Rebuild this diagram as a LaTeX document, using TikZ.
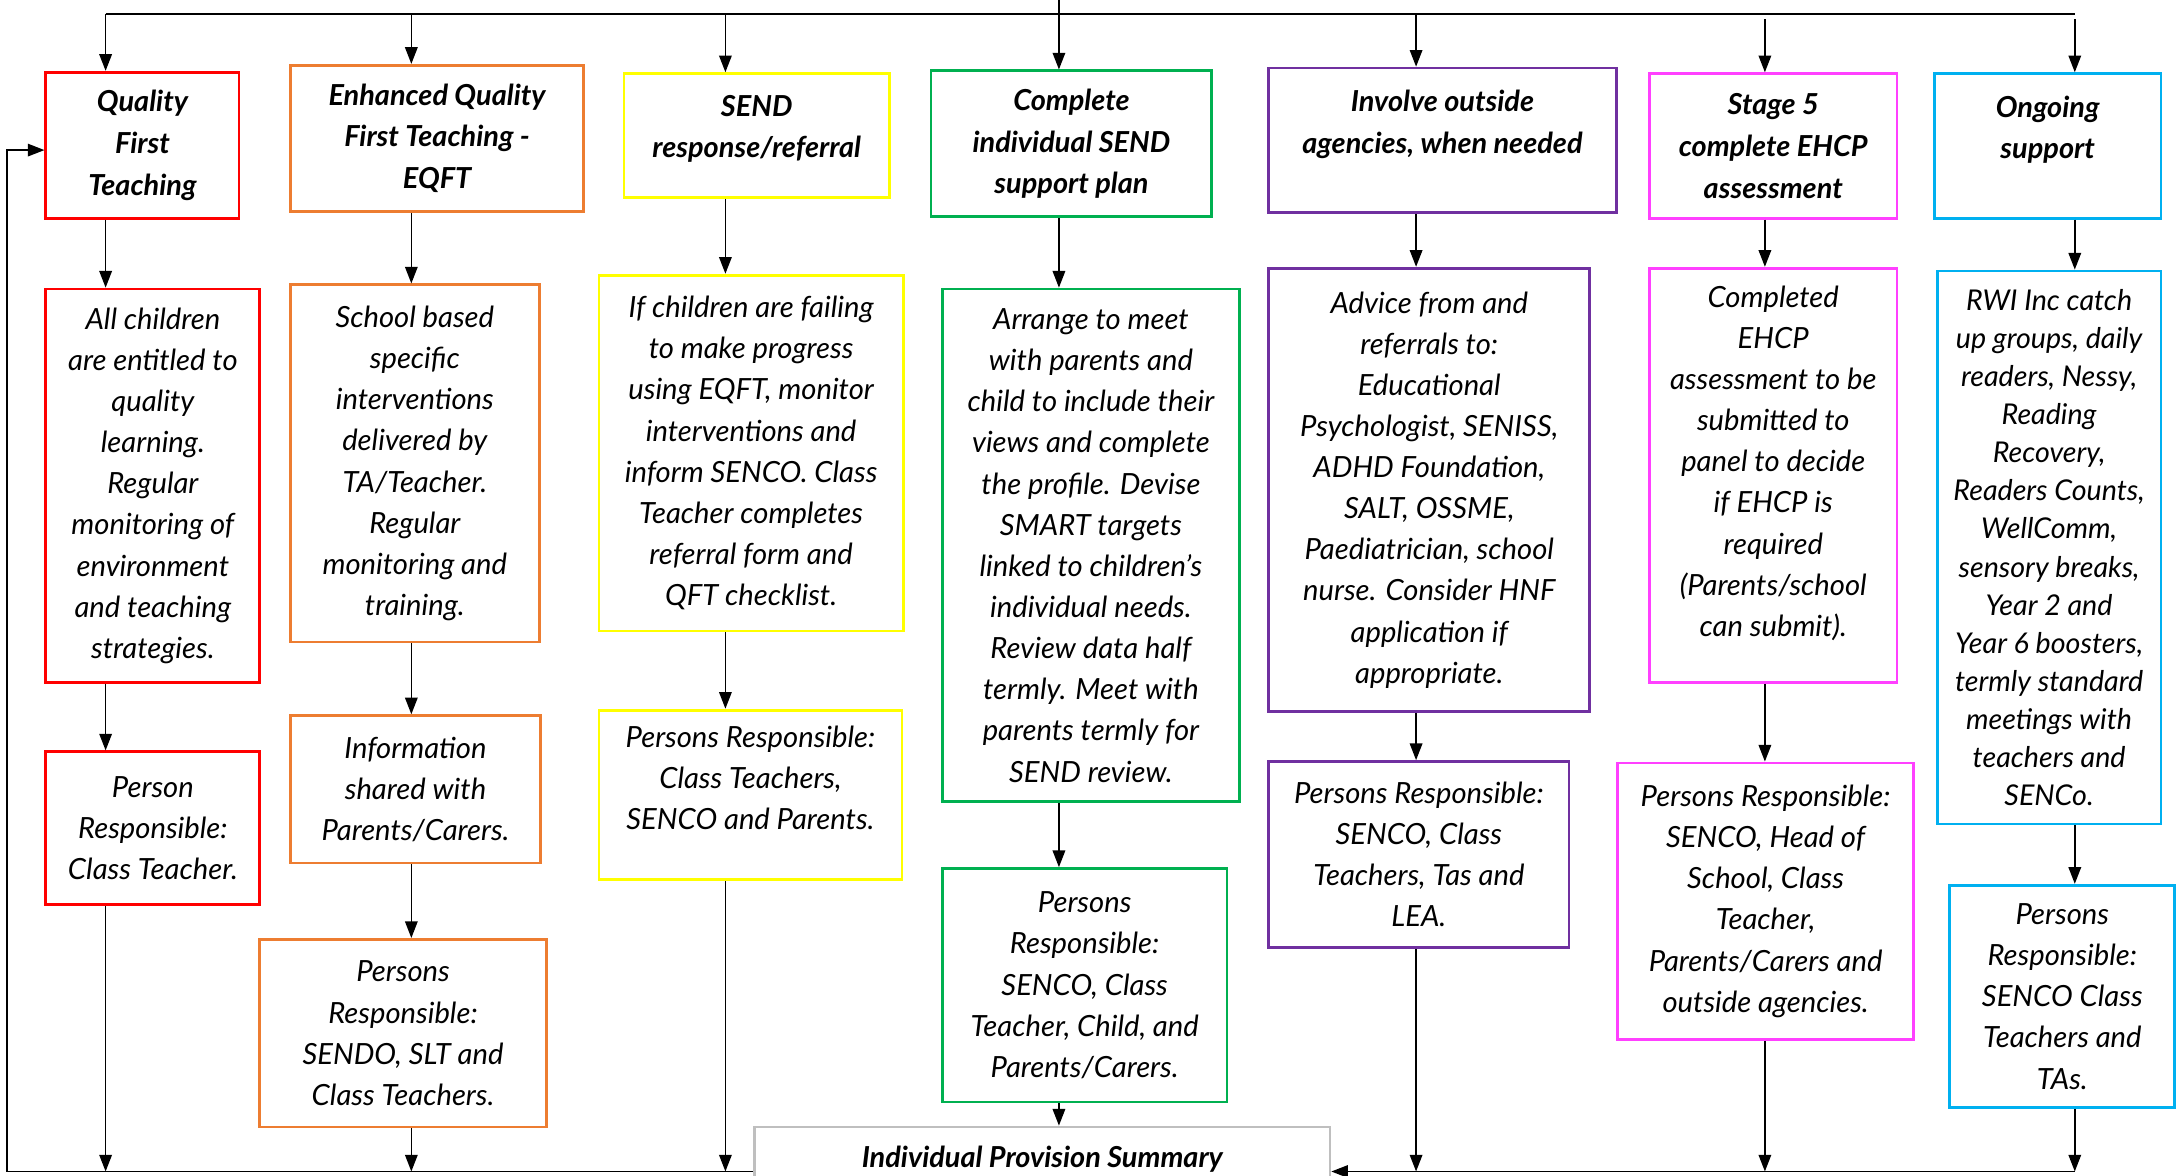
\documentclass[tikz,border=0pt]{standalone}
\usepackage{fontspec}
\setmainfont{Lato}
\usetikzlibrary{arrows.meta}
\definecolor{cred}{HTML}{FF0000}
\definecolor{corange}{HTML}{ED7D31}
\definecolor{cyellow}{HTML}{FFFF00}
\definecolor{cgreen}{HTML}{00B050}
\definecolor{cpurple}{HTML}{7030A0}
\definecolor{cmagenta}{HTML}{FF40FF}
\definecolor{ccyan}{HTML}{00B0F0}
\definecolor{cgray}{HTML}{BFBFBF}
\newcommand\myBodyF{\itshape\fontsize{10.5}{14.8}\selectfont}
\newcommand\myHdrF{\bfseries\itshape\fontsize{10.4}{15}\selectfont}
\newcommand\mySmallF{\itshape\fontsize{10.3}{13.7}\selectfont}
\newcommand{\mybox}[7]{%
  \node[boxst, draw=#2, minimum width={0.5pt*(#5-#3)}, minimum height={0.5pt*(#6-#4)}, #7] (#1) at ({(#3+#5)/2},{(#4+#6)/2})}
\tikzset{
  boxst/.style={rectangle, line width=1pt, inner sep=2pt, align=center, font=\myBodyF, fill=white},
  hdr/.style={font=\myHdrF},
  smalltxt/.style={font=\mySmallF},
  ln/.style={line width=0.6pt, draw=black},
  arr/.style={line width=0.6pt, draw=black, -{Triangle[length=6pt,width=4.5pt]}},
}
\begin{document}
\begin{tikzpicture}[x=0.5pt, y=-0.5pt]
\useasboundingbox (0,0) rectangle (1568,846);
\clip (0,0) rectangle (1568,846);

% column x positions
\coordinate (c1) at (76,0);
\coordinate (c2) at (296,0);
\coordinate (c3) at (522,0);
\coordinate (c4) at (762,0);
\coordinate (c5) at (1019,0);
\coordinate (c6) at (1270,0);
\coordinate (c7) at (1493,0);
\coordinate (yb) at (0,843);
\coordinate (yt) at (0,10);
\coordinate (ytg) at (0,14);

% column 1
\mybox{h1}{cred}{33}{52}{172}{157}{hdr}{Quality\\First\\Teaching};
\mybox{b1}{cred}{33}{208}{187}{491}{}{All children\\are entitled to\\quality\\learning.\\Regular\\monitoring of\\environment\\and teaching\\strategies.};
\mybox{p1}{cred}{33}{541}{187}{651}{}{Person\\Responsible:\\Class Teacher.};

% column 2
\mybox{h2}{corange}{209}{47}{420}{152}{hdr}{Enhanced Quality\\First Teaching -\\EQFT};
\mybox{b2}{corange}{209}{205}{388}{462}{}{School based\\specific\\interventions\\delivered by\\TA/Teacher.\\Regular\\monitoring and\\training.};
\mybox{i2}{corange}{209}{515}{389}{621}{}{Information\\shared with\\Parents/Carers.};
\mybox{p2}{corange}{187}{676}{393}{811}{}{Persons\\Responsible:\\SENDO, SLT and\\Class Teachers.};

% column 3
\mybox{h3}{cyellow}{449}{53}{640}{142}{hdr}{SEND\\response/referral\\[-13pt]\strut};
\mybox{b3}{cyellow}{431}{198}{650}{454}{}{If children are failing\\to make progress\\using EQFT, monitor\\interventions and\\inform SENCO. Class\\Teacher completes\\referral form and\\QFT checklist.};
\mybox{p3}{cyellow}{431}{511}{649}{633}{}{Persons Responsible:\\Class Teachers,\\SENCO and Parents.\\[-7pt]\strut};

% column 4
\mybox{h4}{cgreen}{670}{51}{872}{156}{hdr}{Complete\\individual SEND\\support plan};
\mybox{b4}{cgreen}{678}{208}{892}{577}{}{Arrange to meet\\with parents and\\child to include their\\views and complete\\the profile. Devise\\SMART targets\\linked to children’s\\individual needs.\\Review data half\\termly. Meet with\\parents termly for\\SEND review.};
\mybox{p4}{cgreen}{678}{625}{883}{793}{}{Persons\\Responsible:\\SENCO, Class\\Teacher, Child, and\\Parents/Carers.};

% column 5
\mybox{h5}{cpurple}{913}{49}{1163}{153}{hdr}{Involve outside\\agencies, when needed\\[-6pt]\strut};
\mybox{b5}{cpurple}{913}{193}{1144}{512}{}{Advice from and\\referrals to:\\Educational\\Psychologist, SENISS,\\ADHD Foundation,\\SALT, OSSME,\\Paediatrician, school\\nurse. Consider HNF\\application if\\appropriate.};
\mybox{p5}{cpurple}{913}{548}{1129}{682}{}{Persons Responsible:\\SENCO, Class\\Teachers, Tas and\\LEA.};

% column 6
\mybox{h6}{cmagenta}{1187}{53}{1365}{157}{hdr}{Stage 5\\complete EHCP\\assessment};
\mybox{b6}{cmagenta}{1187}{193}{1365}{491}{}{Completed\\EHCP\\assessment to be\\submitted to\\panel to decide\\if EHCP is\\required\\(Parents/school\\can submit).\\[-9pt]\strut};
\mybox{p6}{cmagenta}{1164}{549}{1377}{748}{}{Persons Responsible:\\SENCO, Head of\\School, Class\\Teacher,\\Parents/Carers and\\outside agencies.};

% column 7
\mybox{h7}{ccyan}{1392}{53}{1555}{157}{hdr}{Ongoing\\support\\[-6pt]\strut};
\mybox{b7}{ccyan}{1394}{195}{1555}{593}{smalltxt}{RWI Inc catch\\up groups, daily\\readers, Nessy,\\Reading\\Recovery,\\Readers Counts,\\WellComm,\\sensory breaks,\\Year 2 and\\Year 6 boosters,\\termly standard\\meetings with\\teachers and\\SENCo.};
\mybox{p7}{ccyan}{1403}{637}{1565}{797}{}{Persons\\Responsible:\\SENCO Class\\Teachers and\\TAs.};

% summary box
\mybox{ips}{cgray}{543}{811}{957}{857}{hdr}{Individual Provision Summary};

% top distribution line
\draw[ln] (c1 |- yt) -- (c7 |- yt);
\draw[arr] (c1 |- yt) -- (h1.north -| c1);
\draw[arr] (c2 |- yt) -- (h2.north -| c2);
\draw[arr] (c3 |- yt) -- (h3.north -| c3);
\draw[arr] (c4) -- (h4.north -| c4);
\draw[arr] (c5 |- yt) -- (h5.north -| c5);
\draw[arr] (c6 |- ytg) -- (h6.north -| c6);
\draw[arr] (c7 |- ytg) -- (h7.north -| c7);

% column 1 flow
\draw[arr] (h1.south -| c1) -- (b1.north -| c1);
\draw[arr] (b1.south -| c1) -- (p1.north -| c1);
\draw[arr] (p1.south -| c1) -- (c1 |- yb);

% column 2 flow
\draw[arr] (h2.south -| c2) -- (b2.north -| c2);
\draw[arr] (b2.south -| c2) -- (i2.north -| c2);
\draw[arr] (i2.south -| c2) -- (p2.north -| c2);
\draw[arr] (p2.south -| c2) -- (c2 |- yb);

% column 3 flow
\draw[arr] (h3.south -| c3) -- (b3.north -| c3);
\draw[arr] (b3.south -| c3) -- (p3.north -| c3);
\draw[arr] (p3.south -| c3) -- (c3 |- yb);

% column 4 flow
\draw[arr] (h4.south -| c4) -- (b4.north -| c4);
\draw[arr] (b4.south -| c4) -- (p4.north -| c4);
\draw[arr] (p4.south -| c4) -- (ips.north -| c4);

% column 5 flow
\draw[arr] (h5.south -| c5) -- (b5.north -| c5);
\draw[arr] (b5.south -| c5) -- (p5.north -| c5);
\draw[arr] (p5.south -| c5) -- (c5 |- yb);

% column 6 flow
\draw[arr] (h6.south -| c6) -- (b6.north -| c6);
\draw[arr] (b6.south -| c6) -- (p6.north -| c6);
\draw[arr] (p6.south -| c6) -- (c6 |- yb);

% column 7 flow
\draw[arr] (h7.south -| c7) -- (b7.north -| c7);
\draw[arr] (b7.south -| c7) -- (p7.north -| c7);
\draw[arr] (p7.south -| c7) -- (c7 |- yb);

% bottom collecting lines and feedback loop
\coordinate (lb) at (5,843);
\coordinate (lt) at (5,108);
\draw[arr] (c7 |- yb) -- (ips.east |- yb);
\draw[arr] (ips.west |- yb) -- (lb) -- (lt) -- (h1.west |- lt);
\end{tikzpicture}
\end{document}
